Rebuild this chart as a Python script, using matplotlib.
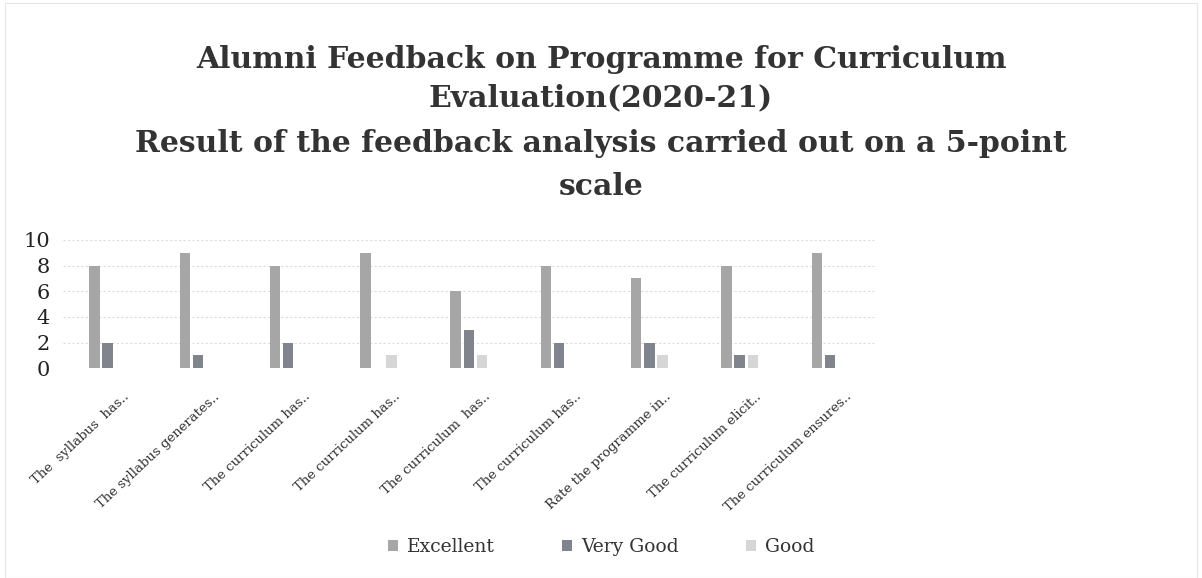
import matplotlib
matplotlib.use("Agg")
import matplotlib.pyplot as plt
import numpy as np
from matplotlib.patches import Rectangle
import matplotlib.transforms as mtransforms

categories = ["The  syllabus  has..", "The syllabus generates..", "The curriculum has..",
              "The curriculum has..", "The curriculum  has..", "The curriculum has..",
              "Rate the programme in..", "The curriculum elicit..", "The curriculum ensures.."]
excellent = [8, 9, 8, 9, 6, 8, 7, 8, 9]
very_good = [2, 1, 2, 0, 3, 2, 2, 1, 1]
good = [0, 0, 0, 1, 1, 0, 1, 1, 0]
series_names = ["Excellent", "Very Good", "Good"]
yticks = [0, 2, 4, 6, 8, 10]

colors = ["#a6a6a6", "#80858d", "#d6d6d6"]
serif = ["DejaVu Serif", "Liberation Serif"]

fig = plt.figure(figsize=(12.02, 5.78), dpi=100)
ax = fig.add_axes([0.052, 0.363, 0.676, 0.222])

x = np.arange(len(categories))
w = 0.115
gap = 0.03
for i, (vals, c, name) in enumerate(zip([excellent, very_good, good], colors, series_names)):
    ax.bar(x + (i - 1) * (w + gap), vals, width=w, color=c, label=name, zorder=3,
           linewidth=0)

ax.set_xlim(-0.5, len(categories) - 0.5)
ax.set_ylim(0, 10)
ax.set_yticks(yticks)
ax.set_yticklabels([str(t) for t in yticks], fontsize=15, family=serif, color="#222222")
ax.grid(axis='y', color="#dcdcdc", linestyle=(0, (2, 2)), linewidth=0.8, zorder=0)
for s in ax.spines.values():
    s.set_visible(False)
ax.tick_params(axis='both', length=0)
ax.tick_params(axis='y', pad=9)
ax.set_xticks(x)
ax.set_xticklabels(categories, rotation=43, ha='right', va='center', rotation_mode='anchor',
                   fontsize=9.5, family=serif, color="#333333")
offset = mtransforms.ScaledTranslation(0.20, -0.22, fig.dpi_scale_trans)
for lab in ax.get_xticklabels():
    lab.set_transform(lab.get_transform() + offset)

tkw = dict(ha='center', va='center', fontsize=21.5, fontweight='bold', family=serif, color="#333333")
fig.text(0.5, 0.897, "Alumni Feedback on Programme for Curriculum", **tkw)
fig.text(0.5, 0.831, "Evaluation(2020-21)", **tkw)
fig.text(0.5, 0.751, "Result of the feedback analysis carried out on a 5-point", **tkw)
fig.text(0.5, 0.678, "scale", **tkw)

leg = fig.legend(loc='center', bbox_to_anchor=(0.5, 0.053), ncol=3, frameon=False,
                 prop={'family': serif, 'size': 13.5}, handlelength=0.55, handleheight=0.55,
                 columnspacing=3.6, handletextpad=0.45)
for t in leg.get_texts():
    t.set_color("#333333")

fig.patches.append(Rectangle((0.004, 0.0), 0.992, 0.995, transform=fig.transFigure,
                             fill=False, edgecolor="#e6e6e6", linewidth=0.8))

fig.savefig("out.png", dpi=100)
